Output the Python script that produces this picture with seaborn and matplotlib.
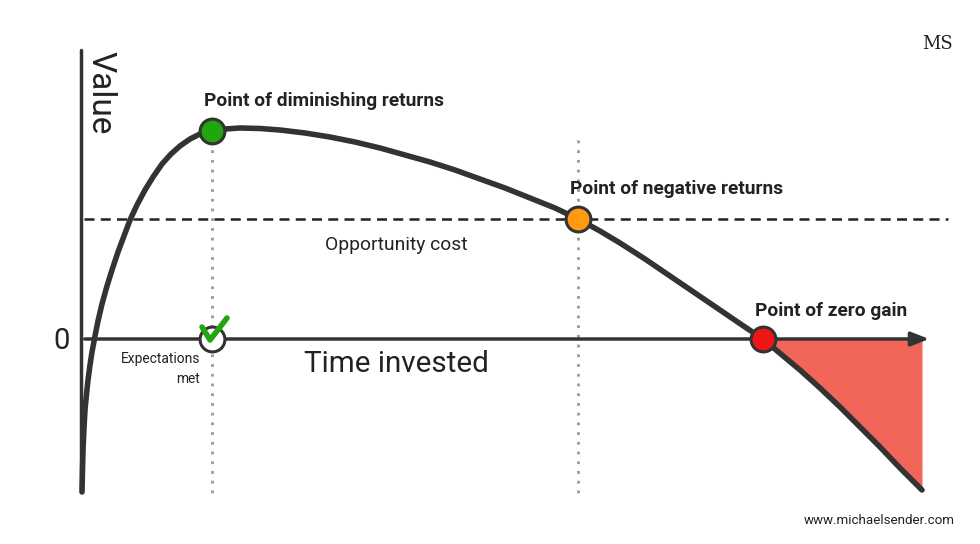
import matplotlib
matplotlib.use("Agg")
import matplotlib.pyplot as plt
import seaborn as sns
import numpy as np

sns.set_theme(style="white")
plt.rcParams['font.family'] = ['Roboto', 'DejaVu Sans']

# curve (pixel-like units, y downward)
curve_x = [82, 82.5, 83, 84, 85, 86.5, 88, 90, 92, 95, 98, 102, 107, 112, 118, 124, 130, 137, 145, 153, 162, 171, 180, 190, 200, 212, 225, 240, 260, 280, 305, 330, 355, 380, 405, 430, 455, 480, 505, 530, 555, 578, 600, 620, 645, 670, 695, 720, 742, 763, 782, 800, 820, 840, 860, 880, 900, 922]
curve_y = [492, 470, 450, 428, 410, 394, 380, 365, 352, 336, 321, 304, 286, 270, 252, 236, 220, 205, 190, 177, 164, 154, 146, 139, 134, 131, 129, 128, 128.5, 130, 133, 137, 142, 148, 155, 162, 170, 179, 188, 198, 208, 219, 231, 243, 259, 276, 293, 310, 325, 339, 355, 370, 388, 407, 427, 447, 468, 490]

pts_x = [212, 578, 763]
pts_y = [131, 219, 339]
pts_c = ["#22a60f", "#ff9a12", "#f01616"]
pts_labels = ["Point of diminishing returns", "Point of negative returns", "Point of zero gain"]

fig = plt.figure(figsize=(9.8, 5.44), dpi=100)
ax = fig.add_axes([0, 0, 1, 1])
ax.set_xlim(0, 980)
ax.set_ylim(544, 0)
ax.axis("off")

cx = np.array(curve_x); cy = np.array(curve_y)
m = cx >= 763
ax.fill_between(cx[m], 339, cy[m], color="#f2665a", lw=0, zorder=1)

# axes
ax.plot([81, 81], [50, 492], color="#333333", lw=2.5, zorder=2)
ax.annotate("", xy=(932, 339), xytext=(82, 339),
            arrowprops=dict(arrowstyle="-|>,head_length=0.9,head_width=0.35", color="#333333", lw=2.5), zorder=2)
ax.plot([84, 948], [219, 219], color="#222222", lw=1.8, ls=(0, (4, 2.5)), zorder=2)

for x in [212, 578]:
    ax.plot([x, x], [140, 495], color="#999999", lw=2, ls=(0, (1, 2.5)), zorder=1)

sns.lineplot(x=curve_x, y=curve_y, ax=ax, color="#333333", lw=4, sort=False, zorder=3,
             solid_joinstyle="round", solid_capstyle="round")

for x, y, c in zip(pts_x, pts_y, pts_c):
    ax.scatter([x], [y], s=320, color=c, edgecolor="#333333", linewidth=2.2, zorder=5)
ax.scatter([212], [339], s=320, color="white", edgecolor="#333333", linewidth=2.2, zorder=5)
ax.plot([202, 210, 227], [327, 340, 318], color="#22a60f", lw=4, solid_capstyle="round", zorder=6)

ax.text(204, 101, pts_labels[0], fontsize=13.8, fontweight="bold", color="#222222", va="center")
ax.text(570, 189, pts_labels[1], fontsize=13.8, fontweight="bold", color="#222222", va="center")
ax.text(755, 311, pts_labels[2], fontsize=13.8, fontweight="bold", color="#222222", va="center")
ax.text(396, 245, "Opportunity cost", fontsize=13.9, color="#222222", ha="center", va="center")
ax.text(396, 364, "Time invested", fontsize=21.3, color="#222222", ha="center", va="center")
ax.text(200, 369, "Expectations\nmet", fontsize=9.9, color="#222222", ha="right", va="center", linespacing=1.5)
ax.text(62, 341, "0", fontsize=21, color="#222222", ha="center", va="center")
ax.text(101, 93, "Value", fontsize=24, color="#222222", ha="center", va="center", rotation=-90)
ax.text(955, 520, "www.michaelsender.com", fontsize=9.6, color="#222222", ha="right", va="center")
ax.text(938, 44, "MS", fontsize=13, family="DejaVu Serif", color="#222222", ha="center", va="center")

fig.savefig("out.png", dpi=100)
